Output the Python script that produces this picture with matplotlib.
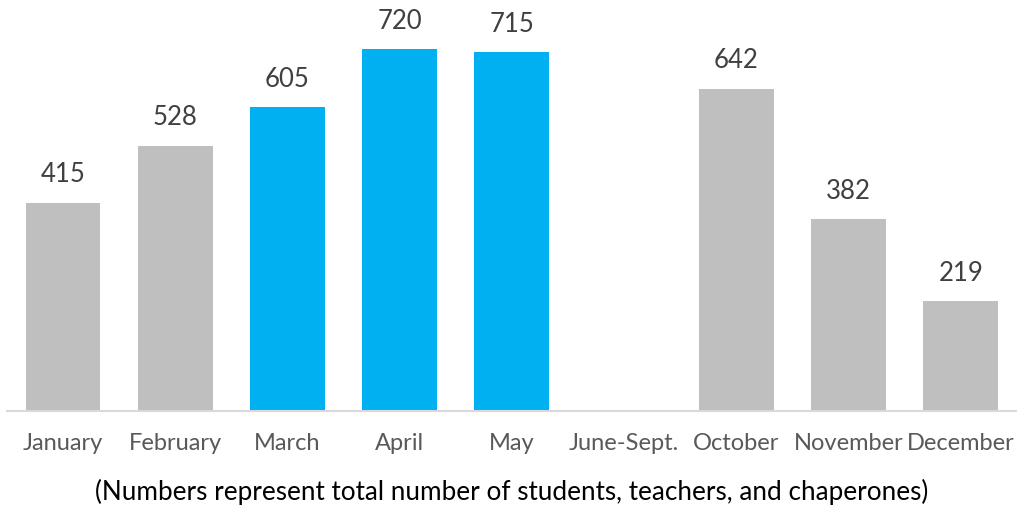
import matplotlib.pyplot as plt

months = ["January", "February", "March", "April", "May", "June-Sept.",
          "October", "November", "December"]
visitors = [415, 528, 605, 720, 715, None, 642, 382, 219]
highlight = [False, False, True, True, True, False, False, False, False]

grey = "#BFBFBF"
blue = "#00B0F0"

plt.rcParams['font.family'] = ['Lato', 'DejaVu Sans']

fig = plt.figure(figsize=(10.17, 5.08), dpi=100)
ax = fig.add_axes([0.0067, 0.191, 0.9933, 0.791])

x = list(range(len(months)))
heights = [v if v is not None else 0 for v in visitors]
colors = [blue if h else grey for h in highlight]
bars = ax.bar(x, heights, width=0.667, color=colors)

for b, v in zip(bars, visitors):
    if v is None:
        continue
    ax.annotate(str(v), (b.get_x() + b.get_width() / 2, v),
                xytext=(0, 11), textcoords="offset points",
                ha="center", va="bottom", fontsize=18.5, color="#404040")

ax.set_xlim(-0.5, len(months) - 0.5)
ax.set_ylim(0, 800)
ax.set_xticks(x)
ax.set_xticklabels(months, fontsize=17, color="#595959")
ax.tick_params(axis="x", length=0, pad=16)
ax.set_yticks([])
for side in ["left", "right", "top"]:
    ax.spines[side].set_visible(False)
ax.spines["bottom"].set_color("#D9D9D9")
ax.spines["bottom"].set_linewidth(1.5)

fig.text(0.503, 0.005, "(Numbers represent total number of students, teachers, and chaperones)",
         ha="center", va="bottom", fontsize=18.8, color="black")

fig.savefig("out.png", dpi=100)
